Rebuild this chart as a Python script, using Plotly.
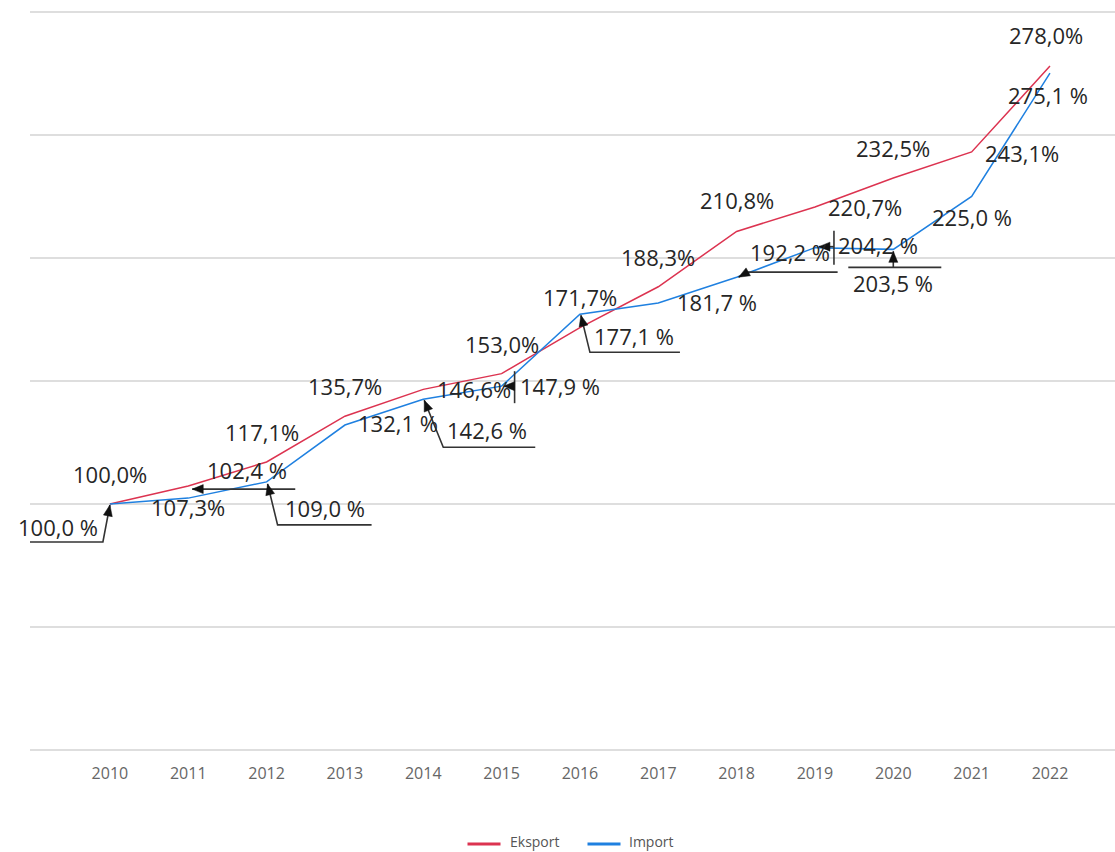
import math
import plotly.graph_objects as go

years = ["2010", "2011", "2012", "2013", "2014", "2015", "2016",
         "2017", "2018", "2019", "2020", "2021", "2022"]
eksport = [100.0, 107.3, 117.1, 135.7, 146.6, 153.0, 171.7,
           188.3, 210.8, 220.7, 232.5, 243.1, 278.0]
import_ = [100.0, 102.4, 109.0, 132.1, 142.6, 147.9, 177.1,
           181.7, 192.2, 204.2, 203.5, 225.0, 275.1]
series_names = ["Eksport", "Import"]

def fmt(v, space):
    s = f"{v:.1f}".replace(".", ",")
    return s + (" %" if space else "%")

eksport_labels = [fmt(v, False) for v in eksport]
import_labels = [fmt(v, True) for v in import_]

# label offsets in screen pixels (dx right, dy down)
eks_off = [(0, -30), (0, 21), (-5, -30), (0, -30), (51, 0), (0, -30), (0, -31),
           (0, -30), (0, -31), (50, 0), (0, -30), (50, 1), (-4, -31)]
imp_off = [(-52, 23), (59, -28), (58, 26), (53, -2), (64, 31), (58, 0), (54, 22),
           (59, -1), (53, -25), (63, -3), (0, 34), (0, 21), (-2, 22)]
# leader polylines (screen px offsets from the point, y down); last point = arrow tip
leaders = {
    0: [[(-100, 38), (-7, 38), (0, 1)]],
    1: [[(107, -9), (4, -9)]],
    2: [[(105, 43), (11, 43), (1, 2)]],
    4: [[(112, 48), (20, 48), (1, 1)]],
    5: [[(13, -15), (13, 17)], [(13, 0), (2, 0)]],
    6: [[(100, 38), (10, 38), (1, 1)]],
    8: [[(101, -5), (11, -5), (2, 0)]],
    9: [[(19, -17), (19, 17)], [(19, -1), (4, -1)]],
    10: [[(-45, 18), (48, 18)], [(0, 18), (0, 2)]],
}

RED = "#dc3350"
BLUE = "#1f80e0"
FONT = "Segoe UI, Open Sans, sans-serif"
LABEL_FONT = dict(size=22, color="#262626", family=FONT)

xs = list(range(len(years)))
fig = go.Figure()
fig.add_trace(go.Scatter(x=xs, y=eksport, mode="lines", name=series_names[0],
                         line=dict(color=RED, width=1.5), hoverinfo="skip"))
fig.add_trace(go.Scatter(x=xs, y=import_, mode="lines", name=series_names[1],
                         line=dict(color=BLUE, width=1.5), hoverinfo="skip"))

annotations = []
for i, (v, t) in enumerate(zip(eksport, eksport_labels)):
    dx, dy = eks_off[i]
    annotations.append(dict(x=i, y=v, xref="x", yref="y", text=t, showarrow=False,
                            xshift=dx, yshift=-dy, font=LABEL_FONT))
for i, (v, t) in enumerate(zip(import_, import_labels)):
    dx, dy = imp_off[i]
    annotations.append(dict(x=i, y=v, xref="x", yref="y", text=t, showarrow=False,
                            xshift=dx, yshift=-dy, font=LABEL_FONT))

shapes = []
for i, polys in leaders.items():
    v = import_[i]
    for poly in polys:
        path = "M " + " L ".join(f"{px},{-py}" for px, py in poly)
        shapes.append(dict(type="path", xref="x", yref="y", xsizemode="pixel", ysizemode="pixel",
                           xanchor=i, yanchor=v, path=path,
                           line=dict(color="#333333", width=1.6)))
    (tx0, ty0), (tx, ty) = polys[-1][-2], polys[-1][-1]
    ux, uy = tx0 - tx, ty0 - ty
    n = math.hypot(ux, uy)
    ux, uy = ux / n, uy / n
    L, W = 11, 4.5
    bx, by = tx + ux * L, ty + uy * L
    px_, py_ = -uy, ux
    pts = [(tx, ty), (bx + px_ * W, by + py_ * W), (bx - px_ * W, by - py_ * W)]
    path = "M " + " L ".join(f"{a:.2f},{-b:.2f}" for a, b in pts) + " Z"
    shapes.append(dict(type="path", xref="x", yref="y", xsizemode="pixel", ysizemode="pixel",
                       xanchor=i, yanchor=v, path=path, fillcolor="#111111",
                       line=dict(color="#111111", width=0.5)))

# manual legend at the bottom centre (pixel offsets from paper centre / plot bottom)
LEG_LINE_DY = -90
LEG_TEXT_DY = -87
for name, color, (l0, l1), tx in [(series_names[0], RED, (-105, -72), -64),
                                  (series_names[1], BLUE, (15, 48), 55)]:
    shapes.append(dict(type="line", xref="paper", yref="paper", xsizemode="pixel",
                       ysizemode="pixel", xanchor=0.5, yanchor=0, x0=l0, x1=l1,
                       y0=LEG_LINE_DY, y1=LEG_LINE_DY, line=dict(color=color, width=3)))
    annotations.append(dict(x=0.5, y=0, xref="paper", yref="paper", text=name,
                            showarrow=False, xanchor="left", yanchor="middle",
                            xshift=tx, yshift=LEG_TEXT_DY, borderpad=0,
                            font=dict(size=14, color="#555555", family=FONT)))

fig.update_layout(
    width=1115, height=852,
    margin=dict(l=30, r=0, t=8, b=98),
    paper_bgcolor="white", plot_bgcolor="white",
    showlegend=False,
    xaxis=dict(tickmode="array", tickvals=xs, ticktext=years,
               range=[-1.02, 12.83], showgrid=False, zeroline=False, showline=False,
               ticks="", ticklabelstandoff=8,
               tickfont=dict(size=16, color="#666666", family=FONT)),
    yaxis=dict(range=[-1.6, 301.6], tickmode="array", tickvals=[0, 50, 100, 150, 200, 250, 300],
               showticklabels=False, showgrid=True,
               gridcolor="#dedede", gridwidth=1.5, zeroline=False, showline=False),
    annotations=annotations,
    shapes=shapes,
)

fig.write_html("out.html", config={"displayModeBar": False},
               post_script="document.body.style.margin='0';")
